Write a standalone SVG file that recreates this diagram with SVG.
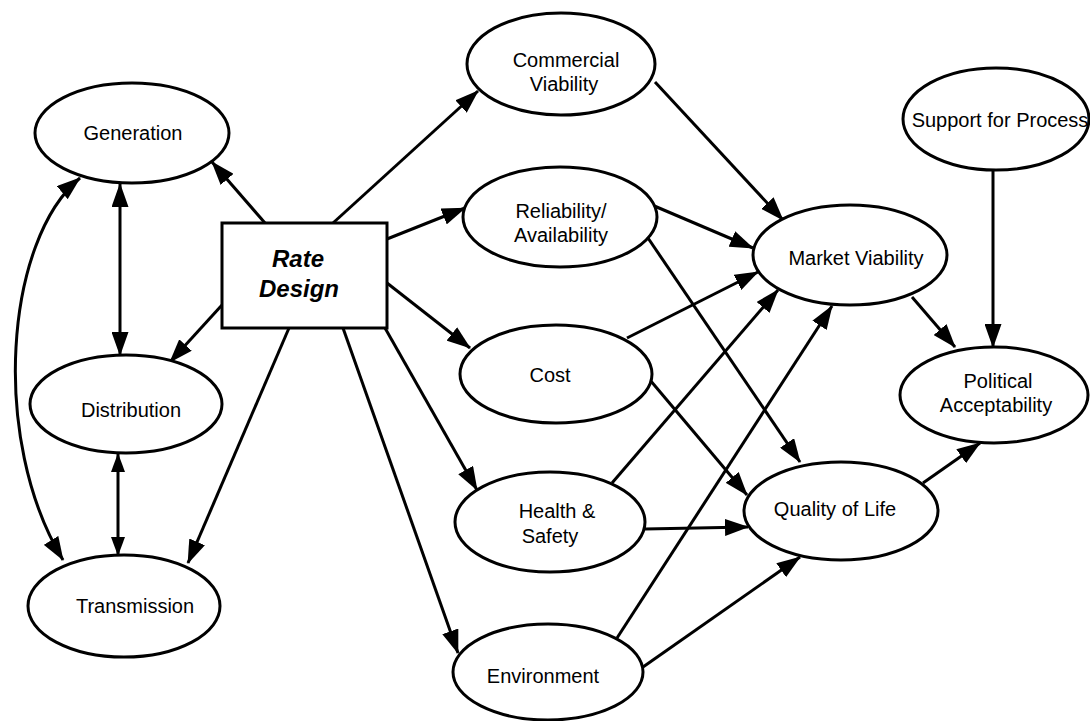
<svg xmlns="http://www.w3.org/2000/svg" width="1090" height="721" viewBox="0 0 1090 721">
<defs>
<marker id="ah" viewBox="0 0 24 17" refX="23" refY="8.5" markerWidth="24" markerHeight="17" markerUnits="userSpaceOnUse" orient="auto-start-reverse">
<path d="M0,0 L24,8.5 L0,17 z" fill="#000"/>
</marker>
<marker id="ahs" viewBox="0 0 19 14" refX="18" refY="7" markerWidth="19" markerHeight="14" markerUnits="userSpaceOnUse" orient="auto-start-reverse">
<path d="M0,0 L19,7 L0,14 z" fill="#000"/>
</marker>
<style>
.n ellipse, .n rect { fill: #fff; stroke: #000; stroke-width: 3; }
.n text { font-family: "Liberation Sans", Arial, sans-serif; font-size: 20px; fill: #000; text-anchor: middle; }
.n text.rd { font-size: 24px; font-style: italic; font-weight: bold; }
#edges path, #edges line { fill: none; stroke: #000; stroke-width: 3; }
.a { marker-end: url(#ah); }
.b { marker-start: url(#ah); marker-end: url(#ah); }
.bs { marker-start: url(#ahs); marker-end: url(#ahs); }
</style>
</defs>
<rect width="1090" height="721" fill="#fff"/>
<g id="edges">
<line class="a" x1="265" y1="223" x2="212" y2="162"/>
<line class="b" x1="120" y1="184" x2="120" y2="355"/>
<path class="b" d="M80,178 C5,240 -10,440 63,560"/>
<line class="a" x1="222" y1="305" x2="170" y2="362"/>
<line class="bs" x1="118" y1="454" x2="118" y2="555"/>
<line class="a" x1="289" y1="328" x2="188" y2="563"/>
<line class="a" x1="333" y1="223" x2="478" y2="91"/>
<line class="a" x1="387" y1="239" x2="465" y2="208"/>
<line class="a" x1="387" y1="283" x2="470" y2="348"/>
<line class="a" x1="385" y1="328" x2="477" y2="490"/>
<line class="a" x1="343" y1="328" x2="458" y2="653"/>
<line class="a" x1="655" y1="82" x2="783" y2="220"/>
<line class="a" x1="652" y1="205" x2="753" y2="248"/>
<line class="a" x1="648" y1="238" x2="800" y2="462"/>
<line class="a" x1="627" y1="338" x2="758" y2="272"/>
<line class="a" x1="650" y1="380" x2="747" y2="495"/>
<line class="a" x1="612" y1="483" x2="778" y2="290"/>
<line class="a" x1="645" y1="529" x2="748" y2="527"/>
<line class="a" x1="617" y1="638" x2="832" y2="306"/>
<line class="a" x1="643" y1="667" x2="800" y2="557"/>
<line class="a" x1="912" y1="297" x2="955" y2="347"/>
<line class="a" x1="993" y1="170" x2="993" y2="347"/>
<line class="a" x1="923" y1="483" x2="980" y2="443"/>
</g>
<g id="generation" class="n"><ellipse cx="132" cy="133" rx="97" ry="50"/><text x="133" y="140">Generation</text></g>
<g id="rate-design" class="n"><rect x="222" y="223" width="165" height="105"/><text class="rd" x="298" y="267">Rate</text><text class="rd" x="299" y="297">Design</text></g>
<g id="distribution" class="n"><ellipse cx="126" cy="404" rx="96" ry="49"/><text x="131" y="417">Distribution</text></g>
<g id="transmission" class="n"><ellipse cx="124" cy="606" rx="96" ry="51"/><text x="135" y="613">Transmission</text></g>
<g id="commercial-viability" class="n"><ellipse cx="561" cy="64" rx="94" ry="51"/><text x="566" y="67">Commercial</text><text x="564" y="91">Viability</text></g>
<g id="reliability" class="n"><ellipse cx="560" cy="217" rx="97" ry="50"/><text x="561" y="218">Reliability/</text><text x="561" y="242">Availability</text></g>
<g id="cost" class="n"><ellipse cx="556" cy="374" rx="96" ry="49"/><text x="550" y="382">Cost</text></g>
<g id="health-safety" class="n"><ellipse cx="550" cy="522" rx="95" ry="50"/><text x="557" y="518">Health &amp;</text><text x="550" y="543">Safety</text></g>
<g id="environment" class="n"><ellipse cx="548" cy="672" rx="95" ry="48"/><text x="543" y="683">Environment</text></g>
<g id="market-viability" class="n"><ellipse cx="850" cy="255" rx="97" ry="50"/><text x="856" y="265">Market Viability</text></g>
<g id="support-for-process" class="n"><ellipse cx="996" cy="119" rx="93" ry="51"/><text x="1000" y="127">Support for Process</text></g>
<g id="political-acceptability" class="n"><ellipse cx="994" cy="395" rx="94" ry="48"/><text x="998" y="388">Political</text><text x="996" y="412">Acceptability</text></g>
<g id="quality-of-life" class="n"><ellipse cx="841" cy="511" rx="97" ry="49"/><text x="835" y="516">Quality of Life</text></g>
</svg>
